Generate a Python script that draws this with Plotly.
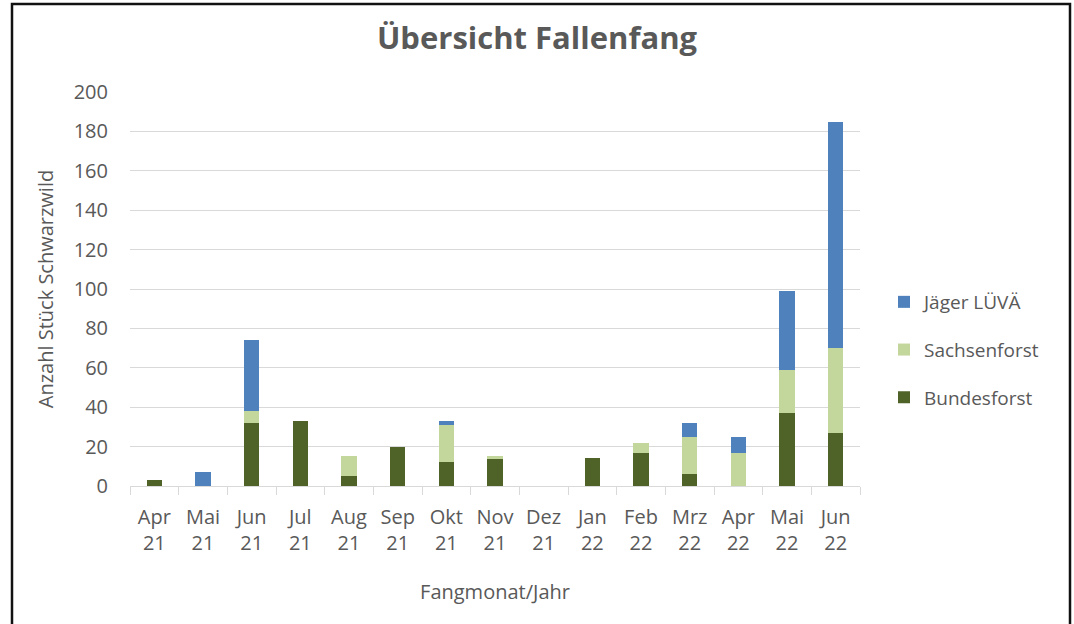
import plotly.graph_objects as go

# Monthly trap catches of wild boar, by trapping party
months = ["Apr<br>21", "Mai<br>21", "Jun<br>21", "Jul<br>21", "Aug<br>21", "Sep<br>21",
          "Okt<br>21", "Nov<br>21", "Dez<br>21", "Jan<br>22", "Feb<br>22", "Mrz<br>22",
          "Apr<br>22", "Mai<br>22", "Jun<br>22"]
bundesforst = [3, 0, 32, 33, 5, 20, 12, 14, 0, 14, 17, 6, 0, 37, 27]
sachsenforst = [0, 0, 6, 0, 10, 0, 19, 1, 0, 0, 5, 19, 17, 22, 43]
jaeger_luevae = [0, 7, 36, 0, 0, 0, 2, 0, 0, 0, 0, 7, 8, 40, 115]

# (name, values, colour, legend rank)
series = [
    ("Bundesforst", bundesforst, "#4f6228", 3),
    ("Sachsenforst", sachsenforst, "#c3d69b", 2),
    ("Jäger LÜVÄ", jaeger_luevae, "#4f81bd", 1),
]

FONT = "Open Sans, Lato, sans-serif"
GREY = "#595959"

fig = go.Figure()
for name, vals, color, rank in series:
    fig.add_trace(go.Bar(
        x=months, y=vals, name=name, legendgroup=name, legendrank=rank,
        marker=dict(color=color, line=dict(width=0)),
    ))

# plot area in pixels: x 130..860, y 92..486
L, R, T, B = 130, 860, 92, 486
W, H = R - L, B - T


def px_x(p):
    return (p - L) / W


def px_y(p):
    return (B - p) / H


fig.update_layout(
    width=1074, height=624,
    margin=dict(l=L, r=1074 - R, t=T, b=624 - B),
    paper_bgcolor="white", plot_bgcolor="white",
    barmode="stack", bargap=0.69,
    font=dict(family=FONT, color=GREY, size=19),
    title=dict(text="<b>Übersicht Fallenfang</b>", x=px_x(537), xref="paper",
               xanchor="center", y=1 - 38 / 624, yref="container", yanchor="middle",
               font=dict(size=31, color=GREY, family=FONT)),
    legend=dict(traceorder="grouped", tracegroupgap=20,
                x=px_x(884), xanchor="left", y=px_y(350), yanchor="middle",
                font=dict(size=19, color=GREY, family=FONT),
                bgcolor="rgba(0,0,0,0)"),
    xaxis=dict(
        type="category", showgrid=False, showline=True, linecolor="#d9d9d9", linewidth=1,
        ticks="outside", tickson="boundaries", ticklen=8, tickcolor="#d9d9d9",
        tickfont=dict(size=20, color=GREY, family=FONT), ticklabelstandoff=13,
        title=dict(text="Fangmonat/Jahr", font=dict(size=20, color=GREY, family=FONT),
                   standoff=29),
        fixedrange=True,
    ),
    yaxis=dict(
        range=[0, 200], dtick=20, showgrid=True, gridcolor="#d9d9d9", gridwidth=1,
        zeroline=False, showline=False, ticks="",
        tickfont=dict(size=20, color=GREY, family=FONT), ticklabelstandoff=21,
        title=dict(text="Anzahl Stück Schwarzwild",
                   font=dict(size=20, color=GREY, family=FONT), standoff=14),
        fixedrange=True,
    ),
)

# frame around the chart (bottom edge lies below the visible page)
fig.add_shape(type="rect", xref="paper", yref="paper",
              x0=px_x(12), x1=px_x(1070), y0=px_y(660), y1=px_y(4),
              line=dict(color="#111111", width=2.5), fillcolor="rgba(0,0,0,0)",
              layer="above")

fig.write_html("out.html")
